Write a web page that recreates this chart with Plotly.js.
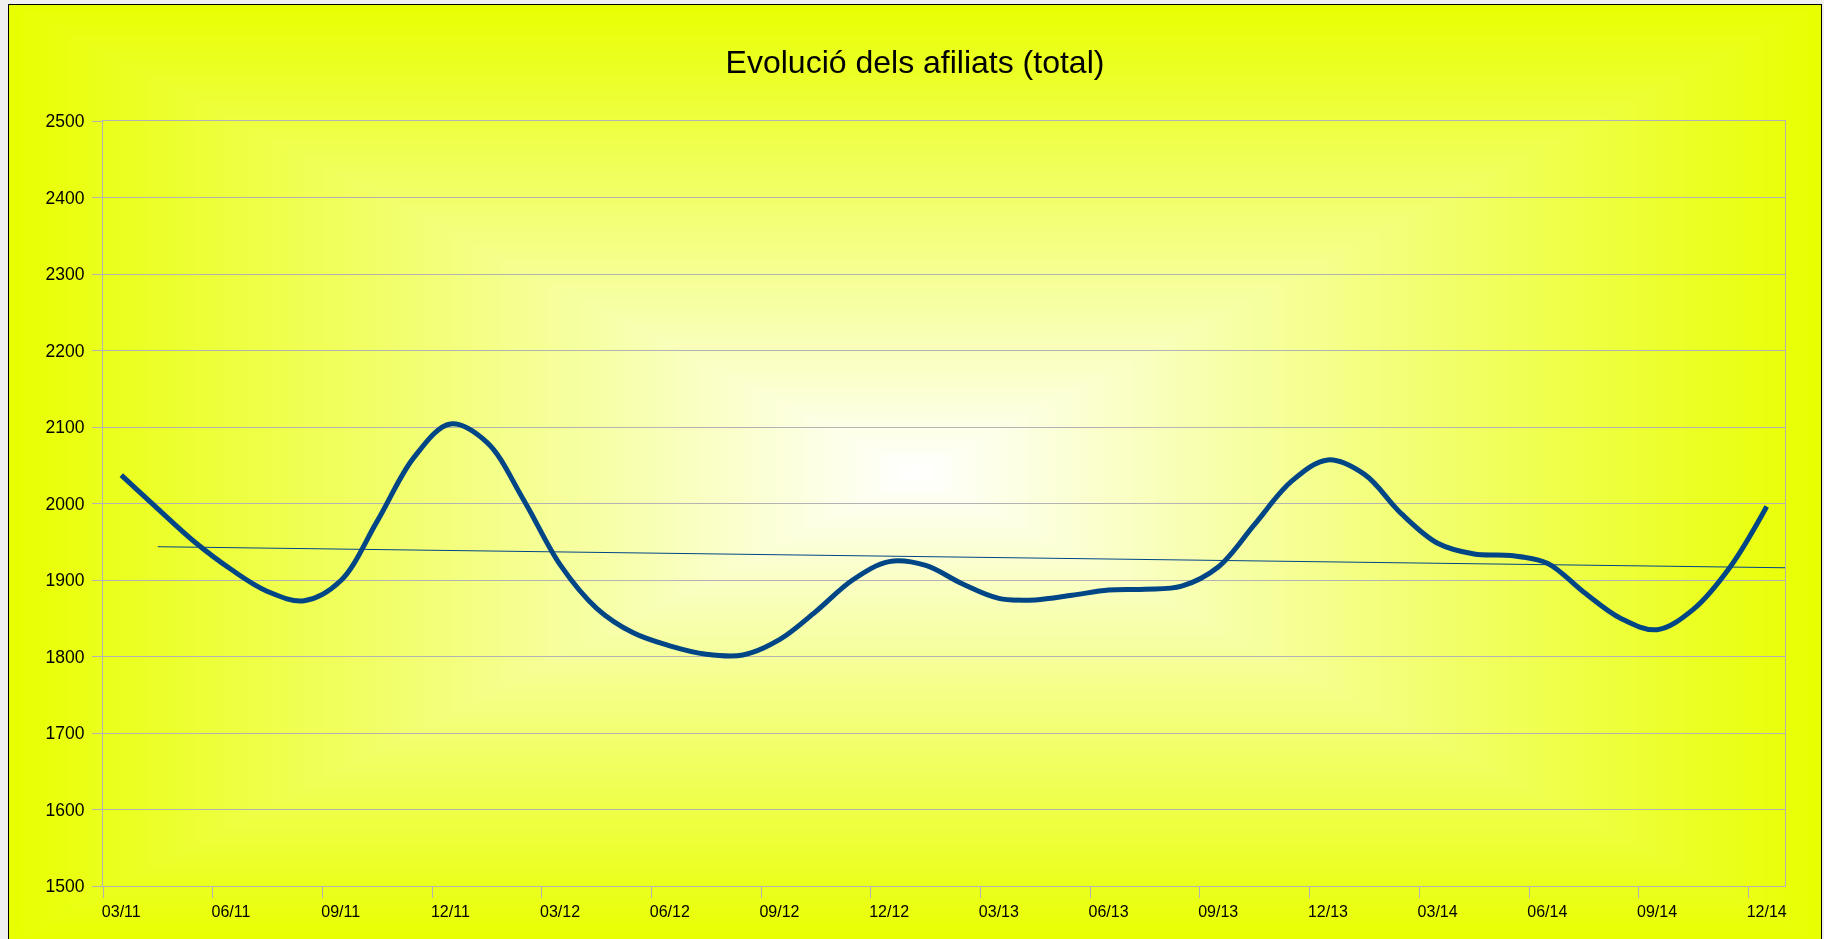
<!DOCTYPE html>
<html><head><meta charset="utf-8">
<script src="https://cdn.plot.ly/plotly-3.0.1.min.js"></script>
<style>
html,body{margin:0;padding:0;background:#f0f0f0;overflow:hidden;}
#bg{position:absolute;left:8px;top:4px;}
#chart{position:absolute;left:0;top:0;width:1824px;height:939px;}
</style></head><body>
<canvas id="bg" width="1814" height="940"></canvas>
<div id="chart"></div>
<script>
// ---- data ----
const months = ['03/11','04/11','05/11','06/11','07/11','08/11','09/11','10/11','11/11','12/11',
  '01/12','02/12','03/12','04/12','05/12','06/12','07/12','08/12','09/12','10/12','11/12','12/12',
  '01/13','02/13','03/13','04/13','05/13','06/13','07/13','08/13','09/13','10/13','11/13','12/13',
  '01/14','02/14','03/14','04/14','05/14','06/14','07/14','08/14','09/14','10/14','11/14','12/14'];
const afiliats = [2037,1993,1950,1914,1885,1873,1899,1977,2060,2104,
  2080,2005,1920,1863,1831,1814,1803,1802,1822,1859,1900,1924,
  1919,1895,1876,1874,1880,1887,1888,1892,1917,1973,2029,2057,
  2038,1987,1948,1934,1932,1922,1884,1850,1835,1862,1917,1996];
const trendValues = [1943.5, 1916];
const yTicks = [1500,1600,1700,1800,1900,2000,2100,2200,2300,2400,2500];
const titleText = 'Evolució dels afiliats (total)';

// ---- background gradient (rectangular, white centre -> yellow edge) ----
(function(){
  const c = document.getElementById('bg');
  const ctx = c.getContext('2d');
  const W = c.width, H = c.height;
  const img = ctx.createImageData(W, H);
  const cx = 907, cy = 468, hw = 907, hh = 468;
  const edge = [232,255,0];
  for (let y=0; y<H; y++){
    const dy = Math.abs(y-cy)/hh;
    for (let x=0; x<W; x++){
      const dx = Math.abs(x-cx)/hw;
      let t = Math.min(1, Math.max(dx,dy));
      const k = (y*W+x)*4;
      img.data[k]   = Math.round(255 + (edge[0]-255)*t);
      img.data[k+1] = Math.round(255 + (edge[1]-255)*t);
      img.data[k+2] = Math.round(255 + (edge[2]-255)*t);
      img.data[k+3] = 255;
    }
  }
  ctx.putImageData(img,0,0);
  ctx.strokeStyle = '#000';
  ctx.lineWidth = 1;
  ctx.strokeRect(0.5,0.5,W-1,H-1);
})();

// ---- chart ----
const idx = months.map((m,i)=>i);
const n = months.length;
const labelIdx = idx.filter(i => i%3===0);
const tickBounds = labelIdx.map(i => i-0.5);

const traces = [
  {x: idx, y: afiliats, type:'scatter', mode:'lines',
   line:{color:'#004586', width:5, shape:'spline', smoothing:1}, hoverinfo:'skip'},
  {x: [1, n-0.5], y: trendValues, type:'scatter', mode:'lines', xaxis:'x2',
   line:{color:'#004586', width:1}, hoverinfo:'skip'}
];

const gridC = '#b3b3b3';
const layout = {
  width:1824, height:939,
  paper_bgcolor:'rgba(0,0,0,0)', plot_bgcolor:'rgba(0,0,0,0)',
  margin:{l:103, r:39, t:121, b:53, pad:0},
  showlegend:false,
  title:{text:titleText, font:{family:'Liberation Sans, Arial, sans-serif', size:32, color:'#000'},
         xref:'container', x:915/1824, xanchor:'center', yref:'container', y:1-62/939, yanchor:'middle'},
  xaxis:{range:[-0.5, n-0.5], tickmode:'array', tickvals:tickBounds, showticklabels:false,
         ticks:'outside', ticklen:11, tickcolor:gridC, tickwidth:1,
         showgrid:false, zeroline:false, showline:true, linecolor:gridC, linewidth:1, mirror:true, fixedrange:true},
  xaxis2:{overlaying:'x', anchor:'y', side:'bottom', range:[-0.5, n-0.5], tickmode:'array',
          tickvals:labelIdx, ticktext:labelIdx.map(i=>months[i]),
          ticks:'outside', ticklen:11, tickcolor:'rgba(0,0,0,0)',
          tickfont:{family:'Liberation Sans Narrow, Liberation Sans, Arial, sans-serif', size:16, color:'#000'},
          showgrid:false, zeroline:false, showline:false, fixedrange:true},
  yaxis:{range:[1500,2500], tickmode:'array', tickvals:yTicks, ticktext:yTicks.map(String),
         ticks:'outside', ticklen:10, tickcolor:gridC, tickwidth:1, ticklabelstandoff:4,
         tickfont:{family:'Liberation Sans, Arial, sans-serif', size:17.5, color:'#000'},
         showgrid:true, gridcolor:gridC, gridwidth:1, zeroline:false,
         showline:true, linecolor:gridC, linewidth:1, mirror:true, fixedrange:true}
};
Plotly.newPlot('chart', traces, layout, {displayModeBar:false, staticPlot:true});
</script>
</body></html>
